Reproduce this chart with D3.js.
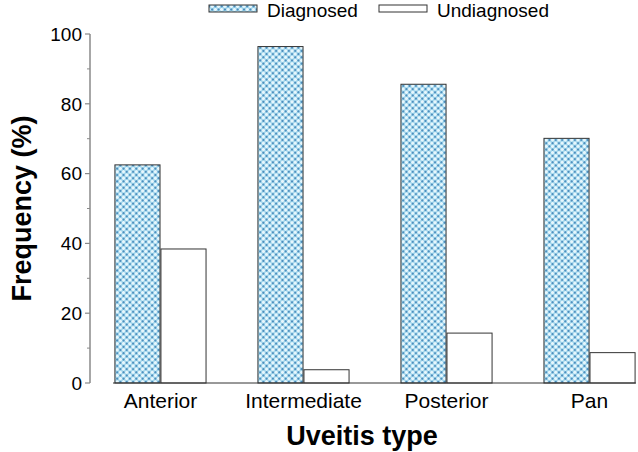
<!DOCTYPE html>
<html lang="en">

<head>
    <meta charset="UTF-8">
    <title>Uveitis type frequency</title>
    <style>
        body { margin: 0; background: #fff; }
        text { font-family: Arial, "Liberation Sans", sans-serif; fill: #000; }
        .axis-title { font-weight: bold; font-size: 27px; }
    </style>
</head>

<body>
    <div id="chart"></div>

    <script src="https://d3js.org/d3.v7.min.js"></script>
    <script>
        "use strict";

        var categories = ["Anterior", "Intermediate", "Posterior", "Pan"];
        var seriesNames = ["Diagnosed", "Undiagnosed"];
        var diagnosed = [62.5, 96.4, 85.6, 70.1];
        var undiagnosed = [38.4, 3.8, 14.3, 8.7];
        var yTicks = [0, 20, 40, 60, 80, 100];
        var yMinorTicks = [10, 30, 50, 70, 90];

        var width = 638, height = 452;

        var svg = d3.select("#chart").append("svg")
            .attr("width", width)
            .attr("height", height);

        // hatch pattern for the diagnosed bars (diamond lattice)
        var defs = svg.append("defs");
        var pat = defs.append("pattern")
            .attr("id", "hatch")
            .attr("patternUnits", "userSpaceOnUse")
            .attr("patternTransform", "rotate(45)")
            .attr("width", 4.5)
            .attr("height", 4.5);
        pat.append("rect").attr("width", 4.5).attr("height", 4.5).attr("fill", "#8ccbe6");
        pat.append("circle").attr("cx", 2.25).attr("cy", 2.25).attr("r", 1.7).attr("fill", "#e8f7fd");
        [[0, 0], [4.5, 0], [0, 4.5], [4.5, 4.5]].forEach(function (p) {
            pat.append("circle").attr("cx", p[0]).attr("cy", p[1]).attr("r", 0.8).attr("fill", "#2f6fa8");
        });

        var y = d3.scaleLinear().domain([0, 100]).range([383, 34]);

        var x0 = d3.scaleBand().domain(categories).range([114, 636]).paddingInner(0.35).paddingOuter(0);
        var x1 = d3.scaleBand().domain(seriesNames).range([0, x0.bandwidth()]).padding(0.02);

        var rows = categories.map(function (c, i) {
            return { cat: c, values: [diagnosed[i], undiagnosed[i]] };
        });

        // y axis
        var axisX = 90;
        var yAxis = svg.append("g").attr("transform", "translate(" + axisX + ",0)");
        yAxis.append("line")
            .attr("y1", y(100)).attr("y2", y(0))
            .attr("stroke", "#8a8a8a").attr("stroke-width", 1.5);
        yAxis.selectAll(".major").data(yTicks).enter().append("line")
            .attr("x1", -5).attr("x2", 0)
            .attr("y1", function (d) { return y(d); })
            .attr("y2", function (d) { return y(d); })
            .attr("stroke", "#8a8a8a").attr("stroke-width", 1.2);
        yAxis.selectAll(".minor").data(yMinorTicks).enter().append("line")
            .attr("x1", -3).attr("x2", 0)
            .attr("y1", function (d) { return y(d); })
            .attr("y2", function (d) { return y(d); })
            .attr("stroke", "#8a8a8a").attr("stroke-width", 1);
        yAxis.selectAll(".lbl").data(yTicks).enter().append("text")
            .attr("x", -8)
            .attr("y", function (d) { return y(d); })
            .attr("dy", "0.36em")
            .attr("text-anchor", "end")
            .style("font-size", "19px")
            .text(function (d) { return d; });

        // bars
        var groups = svg.selectAll(".group").data(rows).enter().append("g")
            .attr("transform", function (d) { return "translate(" + x0(d.cat) + ",0)"; });

        groups.selectAll("rect")
            .data(function (d) { return d.values.map(function (v, i) { return { key: seriesNames[i], value: v }; }); })
            .enter().append("rect")
            .attr("x", function (d) { return x1(d.key); })
            .attr("y", function (d) { return y(d.value); })
            .attr("width", x1.bandwidth())
            .attr("height", function (d) { return y(0) - y(d.value); })
            .attr("fill", function (d) { return d.key === "Diagnosed" ? "url(#hatch)" : "#fff"; })
            .attr("stroke", "#333")
            .attr("stroke-width", 1);

        // baseline
        svg.append("line")
            .attr("x1", x0.range()[0] - 1).attr("x2", x0.range()[1])
            .attr("y1", y(0)).attr("y2", y(0))
            .attr("stroke", "#333").attr("stroke-width", 1);

        // category labels
        svg.selectAll(".cat").data(categories).enter().append("text")
            .attr("x", function (d) { return x0(d) + x0.bandwidth() / 2; })
            .attr("y", 408)
            .attr("text-anchor", "middle")
            .style("font-size", "21px")
            .text(function (d) { return d; });

        // axis titles
        svg.append("text")
            .attr("class", "axis-title")
            .attr("x", 362)
            .attr("y", 445)
            .attr("text-anchor", "middle")
            .text("Uveitis type");

        svg.append("text")
            .attr("class", "axis-title")
            .attr("transform", "translate(31," + (y(0) + y(100)) / 2 + ") rotate(-90)")
            .attr("text-anchor", "middle")
            .text("Frequency (%)");

        // legend
        var legendX = [209, 379];
        var legend = svg.selectAll(".legend").data(seriesNames).enter().append("g")
            .attr("transform", function (d, i) { return "translate(" + legendX[i] + ",0)"; });
        legend.append("rect")
            .attr("x", 0).attr("y", 5)
            .attr("width", 48).attr("height", 7)
            .attr("fill", function (d, i) { return i === 0 ? "url(#hatch)" : "#fff"; })
            .attr("stroke", "#333").attr("stroke-width", 1);
        legend.append("text")
            .attr("x", 58).attr("y", 17)
            .style("font-size", "19px")
            .text(function (d) { return d; });
    </script>
</body>

</html>
